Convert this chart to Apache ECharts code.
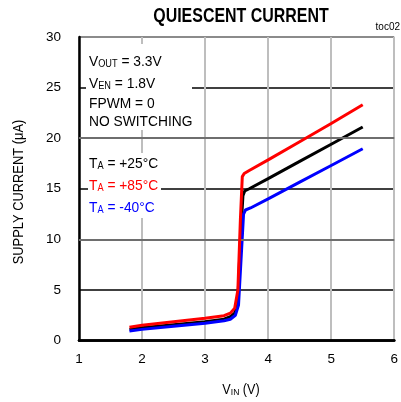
<!DOCTYPE html>
<html>
<head>
<meta charset="utf-8">
<script src="https://cdn.jsdelivr.net/npm/echarts@6/dist/echarts.min.js"></script>
<style>html,body{margin:0;padding:0;background:#fff}#c{width:401px;height:402px}</style>
</head>
<body>
<div id="c"></div>
<script>
// Data
var vin25 = [1.8, 2.0, 2.5, 3.0, 3.3, 3.4, 3.47, 3.52, 3.56, 3.60, 3.63, 3.7, 4.0, 4.5, 5.0, 5.5];
var cur25 = [1.1, 1.25, 1.55, 1.85, 2.1, 2.35, 2.7, 4.0, 10.0, 14.3, 14.8, 15.0, 16.0, 17.7, 19.4, 21.1];
var vin85 = [1.8, 2.0, 2.5, 3.0, 3.3, 3.4, 3.47, 3.52, 3.56, 3.59, 3.62, 3.7, 4.0, 4.5, 5.0, 5.5];
var cur85 = [1.3, 1.5, 1.85, 2.2, 2.45, 2.7, 3.2, 5.0, 12.0, 16.2, 16.5, 16.8, 17.85, 19.65, 21.45, 23.3];
var vinM40 = [1.8, 2.0, 2.5, 3.0, 3.3, 3.4, 3.48, 3.53, 3.57, 3.61, 3.64, 3.72, 4.0, 4.5, 5.0, 5.5];
var curM40 = [0.95, 1.1, 1.4, 1.7, 1.95, 2.1, 2.5, 3.5, 8.0, 12.5, 12.9, 13.1, 14.0, 15.65, 17.3, 18.95];
var xTicks = [1, 2, 3, 4, 5, 6];
var yTicks = [0, 5, 10, 15, 20, 25, 30];
var grayGridY = [10, 20];

function pairs(xs, ys) { return xs.map(function (x, i) { return [x, ys[i]]; }); }

var FONT = '"Liberation Sans", Arial, sans-serif';
var chart = echarts.init(document.getElementById('c'), null, { renderer: 'canvas' });

function label(x, y, segs, color) {
  var t = segs.map(function (s) { return '{' + (s[1] ? 's' : 'a') + '|' + s[0] + '}'; }).join('');
  return {
    type: 'text', x: x, y: y, scaleX: 0.92, z: 10,
    style: {
      text: t, fill: color, textVerticalAlign: 'middle',
      rich: {
        a: { fontFamily: FONT, fontSize: 15, fill: color, verticalAlign: 'bottom', lineHeight: 16 },
        s: { fontFamily: FONT, fontSize: 10, fill: color, verticalAlign: 'bottom', lineHeight: 8 }
      }
    }
  };
}

var option = {
  animation: false,
  grid: { left: 79, right: 0, top: 37, bottom: 61.5 },
  xAxis: [{
    type: 'value', min: xTicks[0], max: xTicks[xTicks.length - 1], interval: 1,
    axisLine: { show: true, onZero: false, lineStyle: { color: 'rgb(0,0,0)', width: 2.5 } },
    axisTick: { show: false },
    axisLabel: { color: 'rgb(0,0,0)', fontSize: 13.5, fontFamily: FONT, margin: 12, alignMaxLabel: 'center', alignMinLabel: 'center' },
    splitLine: { show: true, lineStyle: { color: 'rgb(190,190,190)', width: 2 } }
  }, {
    type: 'value', position: 'top', min: xTicks[0], max: xTicks[xTicks.length - 1], interval: 1,
    axisLine: { show: true, lineStyle: { color: 'rgb(0,0,0)', width: 2.5 } },
    axisTick: { show: false }, axisLabel: { show: false }, splitLine: { show: false }
  }],
  yAxis: {
    type: 'value', min: yTicks[0], max: yTicks[yTicks.length - 1], interval: 5, position: 'left',
    axisLine: { show: true, lineStyle: { color: 'rgb(0,0,0)', width: 2.5 } },
    axisTick: { show: false },
    axisLabel: { color: 'rgb(0,0,0)', fontSize: 13.5, fontFamily: FONT, margin: 18 },
    splitLine: { show: true, lineStyle: { color: ['rgb(100,100,100)', 'rgb(0,0,0)'], width: 1.5 } }
  },
  series: [
    {
      name: 'grid', type: 'line', data: [], z: 1, silent: true,
      markLine: {
        silent: true, symbol: ['none', 'none'], animation: false,
        label: { show: false },
        lineStyle: { color: 'rgb(110,110,110)', width: 2, type: 'solid', opacity: 1 },
        emphasis: { disabled: true },
        data: grayGridY.map(function (v) { return { yAxis: v }; })
      }
    },
    { name: 'TA = +25°C', type: 'line', data: pairs(vin25, cur25), showSymbol: false, lineStyle: { color: '#000', width: 3 }, z: 3 },
    { name: 'TA = -40°C', type: 'line', data: pairs(vinM40, curM40), showSymbol: false, lineStyle: { color: '#0000ff', width: 3 }, z: 4 },
    { name: 'TA = +85°C', type: 'line', data: pairs(vin85, cur85), showSymbol: false, lineStyle: { color: '#ff0000', width: 3 }, z: 5 }
  ],
  graphic: [
    { type: 'text', x: 241, y: 16, scaleX: 0.76, style: { text: 'QUIESCENT CURRENT', fontFamily: FONT, fontWeight: 'bold', fontSize: 21, fill: '#000', textAlign: 'center', textVerticalAlign: 'middle' } },
    { type: 'text', x: 400, y: 27, style: { text: 'toc02', fontFamily: FONT, fontSize: 10, fill: '#000', textAlign: 'right', textVerticalAlign: 'middle' } },
    { type: 'rect', shape: { x: 86, y: 44, width: 106, height: 86 }, style: { fill: '#fff' }, z: 5 },
    { type: 'rect', shape: { x: 88, y: 153, width: 73, height: 65 }, style: { fill: '#fff' }, z: 5 },
    label(89, 61, [['V'], ['OUT', 1], [' = 3.3V']], '#000'),
    label(89, 83.5, [['V'], ['EN', 1], [' = 1.8V']], '#000'),
    label(89, 103.5, [['FPWM = 0']], '#000'),
    label(89, 121.5, [['NO SWITCHING']], '#000'),
    label(89, 163, [['T'], ['A', 1], [' = +25°C']], '#000'),
    label(89, 185, [['T'], ['A', 1], [' = +85°C']], '#ff0000'),
    label(89, 207, [['T'], ['A', 1], [' = -40°C']], '#0000ff'),
    {
      type: 'text', x: 241, y: 389, scaleX: 0.9,
      style: {
        text: '{a|V}{s|IN}{a| (V)}', textAlign: 'center', textVerticalAlign: 'middle',
        rich: {
          a: { fontFamily: FONT, fontSize: 14, fill: '#000', verticalAlign: 'bottom', lineHeight: 16 },
          s: { fontFamily: FONT, fontSize: 9.5, fill: '#000', verticalAlign: 'bottom', lineHeight: 8 }
        }
      }
    },
    { type: 'text', x: 19, y: 192, rotation: Math.PI / 2, scaleX: 0.92, style: { text: 'SUPPLY CURRENT (μA)', fontFamily: FONT, fontSize: 14, fill: '#000', textAlign: 'center', textVerticalAlign: 'middle' } }
  ]
};
chart.setOption(option);
</script>
</body>
</html>
